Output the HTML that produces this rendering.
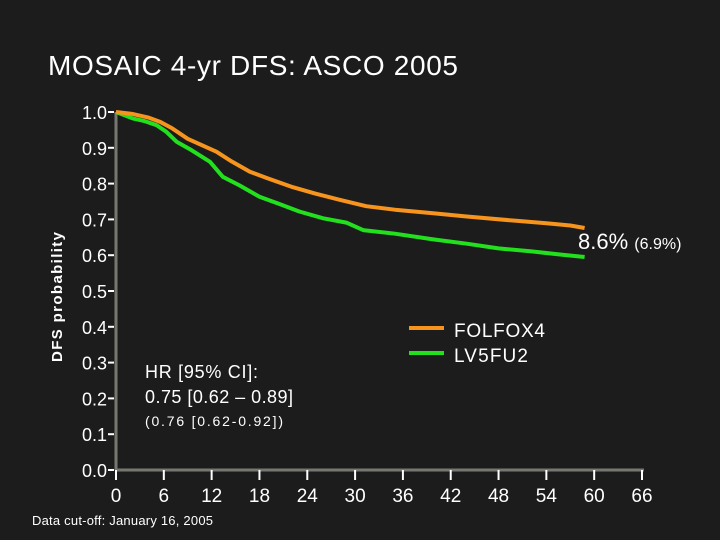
<!DOCTYPE html>
<html><head><meta charset="utf-8"><style>
html,body{margin:0;padding:0;background:#1c1c1c;}
svg{display:block;font-family:"Liberation Sans",Arial,sans-serif;}
</style></head><body>
<svg id="chart" width="720" height="540">
<rect width="720" height="540" fill="#1c1c1c"/>
<text x="48" y="75" font-size="28" textLength="410" fill="#ffffff">MOSAIC 4-yr DFS: ASCO 2005</text>
<text transform="translate(62,297) rotate(-90)" text-anchor="middle" font-size="15" font-weight="bold" textLength="130" fill="#ffffff">DFS probability</text>
<g id="axes"></g>
<g id="series"></g>
<text x="578" y="249" font-size="22" fill="#ffffff">8.6% <tspan font-size="16">(6.9%)</tspan></text>
<line x1="409" y1="328" x2="444" y2="328" stroke="#f7941d" stroke-width="4"/>
<text x="454" y="337" font-size="19" textLength="91" fill="#ffffff">FOLFOX4</text>
<line x1="409" y1="353" x2="444" y2="353" stroke="#22e01e" stroke-width="4"/>
<text x="454" y="362" font-size="19" textLength="74" fill="#ffffff">LV5FU2</text>
<text x="145" y="378" font-size="18" textLength="113" fill="#ffffff">HR [95% CI]:</text>
<text x="145" y="403" font-size="18" textLength="148" fill="#ffffff">0.75 [0.62 – 0.89]</text>
<text x="145" y="426" font-size="14" textLength="138" fill="#ffffff">(0.76 [0.62-0.92])</text>
<text x="32" y="525" font-size="13" textLength="181" fill="#ffffff">Data cut-off: January 16, 2005</text>
</svg>
<script>
const xTicks=[0,6,12,18,24,30,36,42,48,54,60,66];
const yTicks=["0.0","0.1","0.2","0.3","0.4","0.5","0.6","0.7","0.8","0.9","1.0"];
const folfoxMonths=[0,2,4,5.5,7,9,12.6,14.5,16.8,19,22.2,25,28,31.4,35,39.8,44,50.2,54,57,58.8];
const folfoxValues=[1.0,0.995,0.985,0.973,0.955,0.925,0.889,0.862,0.833,0.815,0.79,0.772,0.755,0.737,0.727,0.717,0.708,0.696,0.689,0.683,0.676];
const lv5fu2Months=[0,2.1,3.5,5.1,6.3,7.6,9.5,11.8,13.4,15.5,18,20.5,23,26,28.9,31,35,39.8,44,48,52,56,58.8];
const lv5fu2Values=[1.0,0.982,0.975,0.963,0.945,0.917,0.893,0.861,0.819,0.795,0.763,0.743,0.722,0.703,0.691,0.670,0.660,0.644,0.632,0.619,0.611,0.601,0.595];
const X0=116,X1=642,Y0=470,Y1=112;
const xs=m=>X0+(m/66)*(X1-X0);
const ys=v=>Y0-v*(Y0-Y1);
const NS="http://www.w3.org/2000/svg";
const axes=document.getElementById('axes');
function mk(tag,attrs,parent){const e=document.createElementNS(NS,tag);for(const k in attrs)e.setAttribute(k,attrs[k]);parent.appendChild(e);return e;}
let l=mk('line',{x1:X0,y1:Y1,x2:X0,y2:Y0,stroke:'#77776f','stroke-width':3},axes);


l=mk('line',{x1:X0,y1:Y0,x2:X1+2,y2:Y0,stroke:'#77776f','stroke-width':3},axes);


xTicks.forEach(t=>{
 const x=xs(t);
 const tk=mk('line',{x1:x,y1:Y0,x2:x,y2:Y0+10,stroke:'#ffffff','stroke-width':2},axes);
 
 
 const tx=mk('text',{x:x,y:Y0+32,'text-anchor':'middle','font-size':19,fill:'#ffffff'},axes);
 tx.textContent=t;
 
 
});
yTicks.forEach(t=>{
 const y=ys(parseFloat(t));
 const tk=mk('line',{x1:X0-8,y1:y,x2:X0-2,y2:y,stroke:'#ffffff','stroke-width':2},axes);
 
 
 const tx=mk('text',{x:X0-9,y:y+7,'text-anchor':'end','font-size':18,fill:'#ffffff'},axes);
 tx.textContent=t;
 
 
});
const series=document.getElementById('series');
function drawLine(ms,vs,color,name){
 const d=ms.map((m,i)=>(i?'L':'M')+xs(m).toFixed(1)+','+ys(vs[i]).toFixed(1)).join(' ');
 const p=mk('path',{d:d,fill:'none',stroke:color,'stroke-width':4,'stroke-linejoin':'round'},series);
 
 
}
drawLine(lv5fu2Months,lv5fu2Values,'#22e01e','lv5fu2-line');
drawLine(folfoxMonths,folfoxValues,'#f7941d','folfox4-line');
</script>
</body></html>
